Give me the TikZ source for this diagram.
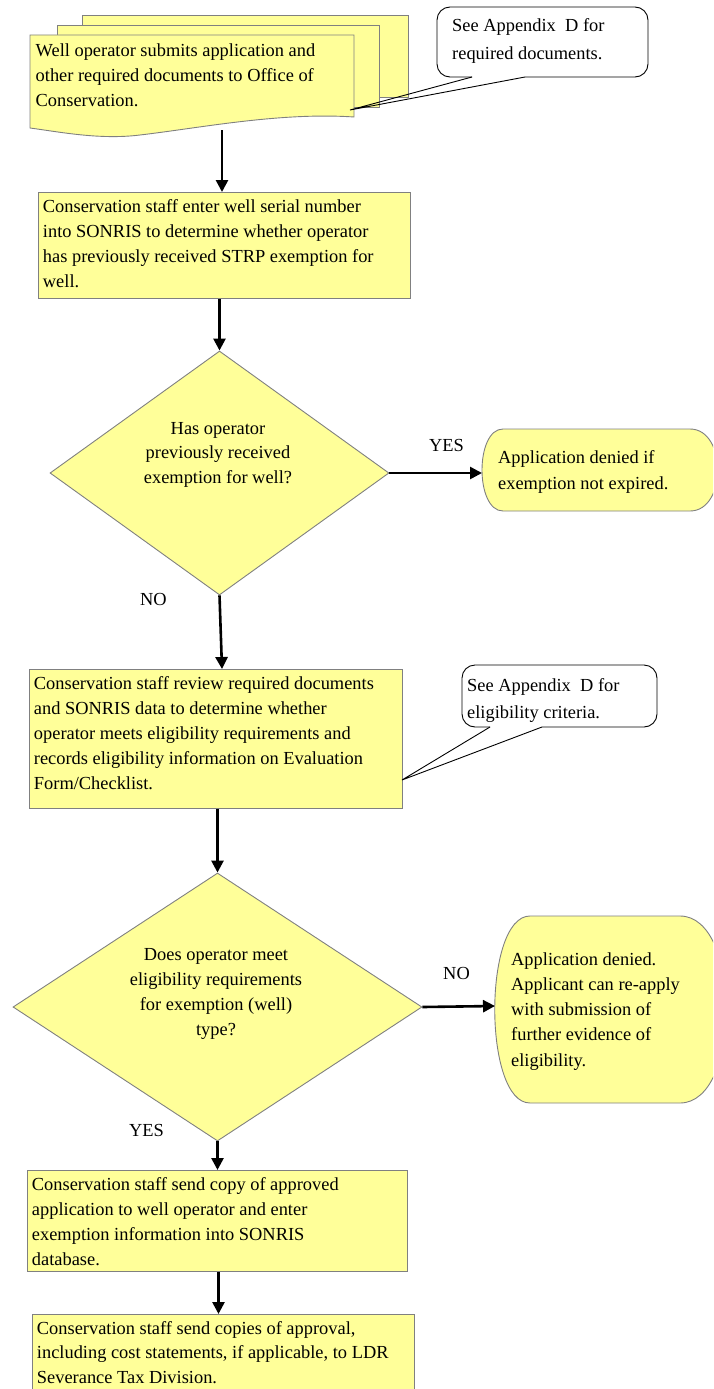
\documentclass[tikz,border=0pt]{standalone}
\usepackage{fontspec}
\setmainfont{Liberation Serif}
\usetikzlibrary{arrows.meta,shapes.geometric}
\definecolor{fcyellow}{HTML}{FFFF99}
\definecolor{edgegray}{HTML}{808080}
\newcommand{\fcpar}[3]{\parbox[c][#2][t]{#1}{\strut #3}}
\newcommand{\fctop}[2]{\parbox[t]{#1}{\strut #2}}
\newcommand{\fcctr}[2]{\parbox[t]{#1}{\centering\strut #2}}
\begin{document}
\begin{tikzpicture}[x=1pt,y=-1pt,
  font=\fontsize{18.4}{25}\selectfont,
  proc/.style={draw=edgegray, fill=fcyellow, line width=0.9pt, inner xsep=4.5pt, inner ysep=3pt, anchor=north west},
  txt/.style={inner sep=0pt, anchor=base west},
  lbl/.style={inner sep=0pt, anchor=base},
  arr/.style={line width=2.6pt, -{Triangle[length=12pt,width=12pt]}},
  sheet/.style={draw=edgegray, fill=fcyellow, line width=0.9pt},
  callout/.style={draw=black, line width=0.9pt, rounded corners=13pt},
  pointer/.style={draw=black, line width=0.9pt, line join=miter},
  decision/.style={diamond, draw=edgegray, fill=fcyellow, line width=0.9pt, inner sep=0pt}]
\useasboundingbox (0,0) rectangle (713,1389);
\clip (0,0) rectangle (713,1389);

% stacked documents
\draw[sheet] (82,15) rectangle (408,97);
\draw[sheet] (57,25) rectangle (379,107);
\draw[sheet] (30,35) -- (354,35) -- (354,117)
  .. controls (280,112) and (200,128) .. (140,135)
  .. controls (100,140) and (60,132) .. (30,128) -- cycle;
\node[txt] (doc) at (35.5,56.7) {\fctop{318pt}{Well operator submits application and\\ other required documents to Office of\\ Conservation.}};
\coordinate (docb) at (222,130);
\coordinate (c1tip) at (350,110);

% callout 1
\draw[callout] (525,77) -- (648,77) -- (648,7) -- (437,7) -- (437,77) -- (472,77);
\draw[pointer] (472,77) -- (c1tip) -- (525,77);
\node[txt, font=\fontsize{18.4}{27.5}\selectfont] (c1) at (452,31.7) {\fctop{190pt}{See Appendix\ \ D for\\ required documents.}};

% box 2
\node[proc] (b2) at (38,192) {\fcpar{363pt}{100pt}{Conservation staff enter well serial number\\ into SONRIS to determine whether operator\\ has previously received STRP exemption for\\ well.}};

% decision 1
\node[decision, minimum width=339pt, minimum height=244pt] (d1) at (219.5,473) {};
\node[lbl, font=\fontsize{18.4}{24.5}\selectfont] (d1t) at (218,434) {\fcctr{220pt}{Has operator\\ previously received\\ exemption for well?}};

% terminal 1
\draw[sheet] (503,429) -- (690,429) .. controls (727,429) and (727,511) .. (690,511)
  -- (503,511) .. controls (475,511) and (475,429) .. (503,429) -- cycle;
\coordinate (t1w) at (482,473);
\node[txt, font=\fontsize{18.4}{26.5}\selectfont] (t1) at (498,463) {\fctop{210pt}{Application denied if\\ exemption not expired.}};
\node[lbl] (yes1) at (446.5,451) {YES};
\node[lbl] (no1) at (153.5,605.7) {NO};

% box 3
\node[proc] (b3) at (29,669) {\fcpar{364pt}{133pt}{Conservation staff review required documents\\ and SONRIS data to determine whether\\ operator meets eligibility requirements and\\ records eligibility information on Evaluation\\ Form/Checklist.}};
\coordinate (c2tip) at (402,780);

% callout 2
\draw[callout] (542,727) -- (657,727) -- (657,665) -- (462,665) -- (462,727) -- (490,727);
\draw[pointer] (490,727) -- (c2tip) -- (542,727);
\node[txt, font=\fontsize{18.4}{27}\selectfont] (c2) at (467,691.7) {\fctop{185pt}{See Appendix\ \ D for\\ eligibility criteria.}};

% decision 2
\node[decision, minimum width=409pt, minimum height=268pt] (d2) at (217.5,1007) {};
\node[lbl] (d2t) at (216,960) {\fcctr{240pt}{Does operator meet\\ eligibility requirements\\ for exemption (well)\\ type?}};

% terminal 2
\draw[sheet] (530,916) -- (680,916) .. controls (742,916) and (742,1103) .. (680,1103)
  -- (530,1103) .. controls (483,1103) and (483,916) .. (530,916) -- cycle;
\coordinate (t2w) at (495,1006);
\node[txt, font=\fontsize{18.4}{25.3}\selectfont] (t2) at (511,965) {\fctop{200pt}{Application denied.\\ Applicant can re-apply\\ with submission of\\ further evidence of\\ eligibility.}};
\node[lbl] (no2) at (456.5,979) {NO};
\node[lbl] (yes2) at (146.5,1136.7) {YES};

% box 4
\node[proc] (b4) at (27,1170) {\fcpar{371pt}{95pt}{Conservation staff send copy of approved\\ application to well operator and enter\\ exemption information into SONRIS\\ database.}};

% box 5
\node[proc, font=\fontsize{18.4}{24.3}\selectfont] (b5) at (32,1314) {\fcpar{373pt}{90pt}{Conservation staff send copies of approval,\\ including cost statements, if applicable, to LDR\\ Severance Tax Division.}};

% connectors
\draw[arr] (docb) -- (docb |- b2.north);
\draw[arr] (d1.north |- b2.south) -- (d1.north);
\draw[arr] (d1.east) -- (t1w);
\draw[arr] (d1.south) -- ([xshift=2.5pt]d1.south |- b3.north);
\draw[arr] (d2.north |- b3.south) -- (d2.north);
\draw[arr] (d2.east) -- (t2w);
\draw[arr] (d2.south) -- (d2.south |- b4.north);
\draw[arr] ([xshift=1pt]d2.south |- b4.south) -- ([xshift=1pt]d2.south |- b5.north);
\end{tikzpicture}
\end{document}
